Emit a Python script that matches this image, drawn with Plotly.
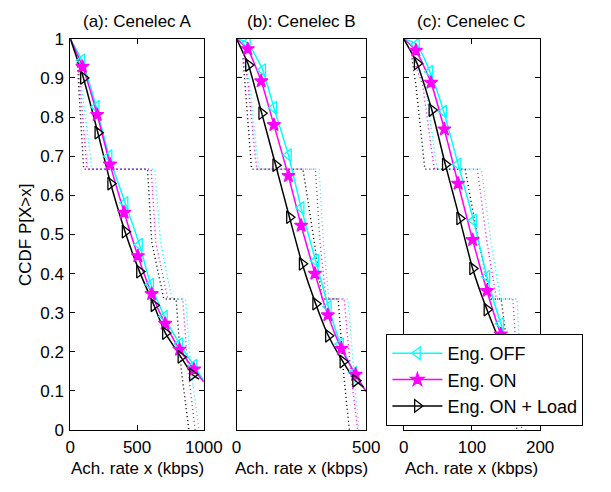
import plotly.graph_objects as go

# ---------------- data ----------------
series_names = ["Eng. OFF", "Eng. ON", "Eng. ON + Load"]
titles = ["(a): Cenelec A", "(b): Cenelec B", "(c): Cenelec C"]
x_ranges = [[0, 1000], [0, 500], [0, 200]]
x_tickvals = [[0, 500, 1000], [0, 500], [0, 100, 200]]
y_tickvals = [0, 0.1, 0.2, 0.3, 0.4, 0.5, 0.6, 0.7, 0.8, 0.9, 1]
y_ticktext = ["0", "0.1", "0.2", "0.3", "0.4", "0.5", "0.6", "0.7", "0.8", "0.9", "1"]

# solid CCDF curves (first and last point have no marker)
a_off_x = [0, 86, 194, 290, 410, 518, 602, 705, 818, 926, 1000]
a_off_y = [1, 0.945, 0.826, 0.70, 0.581, 0.474, 0.372, 0.29, 0.22, 0.165, 0.125]
a_on_x = [0, 91, 201, 297, 403, 506, 609, 710, 818, 926, 1000]
a_on_y = [1, 0.929, 0.806, 0.679, 0.556, 0.445, 0.348, 0.272, 0.206, 0.155, 0.123]
a_load_x = [0, 98, 206, 302, 410, 518, 626, 712, 828, 914, 965]
a_load_y = [1, 0.90, 0.76, 0.63, 0.507, 0.405, 0.319, 0.248, 0.187, 0.142, 0.13]

b_off_x = [0, 42, 101, 144, 200, 249, 305, 354, 401, 453, 500]
b_off_y = [1, 0.99, 0.92, 0.824, 0.703, 0.568, 0.433, 0.315, 0.22, 0.147, 0.098]
b_on_x = [0, 43, 95, 144, 200, 249, 302, 352, 404, 459, 500]
b_on_y = [1, 0.974, 0.892, 0.78, 0.65, 0.523, 0.40, 0.294, 0.208, 0.142, 0.098]
b_load_x = [0, 46, 97, 151, 204, 253, 305, 354, 410, 459, 490]
b_load_y = [1, 0.933, 0.81, 0.677, 0.544, 0.425, 0.323, 0.241, 0.175, 0.126, 0.11]

c_off_x = [0, 18.7, 38.5, 58.7, 79.8, 102.4, 122, 142.3, 163, 185]
c_off_y = [1, 0.986, 0.916, 0.814, 0.679, 0.536, 0.392, 0.272, 0.17, 0.10]
c_on_x = [0, 17.8, 40, 59.6, 79.8, 101, 122, 142.3, 163, 185]
c_on_y = [1, 0.97, 0.888, 0.769, 0.63, 0.486, 0.356, 0.245, 0.16, 0.10]
c_load_x = [0, 19.7, 41.3, 61, 82, 101, 122, 143, 165, 180]
c_load_y = [1, 0.937, 0.818, 0.679, 0.541, 0.413, 0.308, 0.22, 0.15, 0.11]

# dotted (empirical) CCDF curves
step_y = [0.95, 0.88, 0.70, 0.667, 0.667, 0.48, 0.335, 0.335, 0.15, 0]
a_load_dot_x = [50, 62, 92, 100, 578, 610, 700, 792, 832, 888]
a_on_dot_x = [55, 72, 115, 125, 605, 640, 730, 842, 882, 935]
a_off_dot_x = [60, 82, 150, 160, 632, 675, 762, 862, 905, 964]

b_load_dot_x = [25, 33, 52, 58, 256, 300, 330, 392, 412, 435]
b_on_dot_x = [30, 45, 72, 78, 304, 322, 345, 415, 440, 467]
b_off_dot_x = [32, 50, 80, 86, 318, 335, 356, 430, 452, 472]

c_load_dot_x = [12, 18, 29, 31, 90, 110, 128, 143, 156, 166]
c_on_dot_x = [14, 28, 42, 45, 108, 122, 136, 160, 167, 173]
c_off_dot_x = [16, 32, 46, 49, 114, 128, 142, 166, 172, 179]

colors = ["#00FFFF", "#FF00FF", "#000000"]
symbols = ["triangle-left-open", "star", "triangle-right-open"]
marker_sizes = [11, 10, 11]

solid = [
    [(a_off_x, a_off_y), (a_on_x, a_on_y), (a_load_x, a_load_y)],
    [(b_off_x, b_off_y), (b_on_x, b_on_y), (b_load_x, b_load_y)],
    [(c_off_x, c_off_y), (c_on_x, c_on_y), (c_load_x, c_load_y)],
]
dotted = [
    [a_off_dot_x, a_on_dot_x, a_load_dot_x],
    [b_off_dot_x, b_on_dot_x, b_load_dot_x],
    [c_off_dot_x, c_on_dot_x, c_load_dot_x],
]

# ---------------- layout geometry ----------------
W, H = 611, 492
x_px = [(68, 207), (241, 376), (415, 557)]
y_top, y_bot = 31, 438
FS = 17

fig = go.Figure()

for p in range(3):
    xa = "x" if p == 0 else f"x{p+1}"
    ya = "y" if p == 0 else f"y{p+1}"
    for s in range(3):
        fig.add_trace(go.Scatter(
            x=dotted[p][s], y=step_y, mode="lines",
            line=dict(color=colors[s], width=1.4, dash="1px,3px"),
            showlegend=False, xaxis=xa, yaxis=ya, hoverinfo="skip"))
    for s in range(3):
        xs, ys = solid[p][s]
        fig.add_trace(go.Scatter(
            x=xs, y=ys, mode="lines",
            line=dict(color=colors[s], width=1.5, shape="spline", smoothing=0.5),
            showlegend=False, xaxis=xa, yaxis=ya, hoverinfo="skip"))
    for s in range(3):
        xs, ys = solid[p][s]
        fig.add_trace(go.Scatter(
            x=xs[1:-1], y=ys[1:-1], mode="markers",
            marker=dict(symbol=symbols[s], size=marker_sizes[s], color=colors[s],
                        line=dict(color=colors[s], width=1.3)),
            showlegend=False, xaxis=xa, yaxis=ya, hoverinfo="skip"))

# legend-only entries
for s in range(3):
    fig.add_trace(go.Scatter(
        x=[None], y=[None], mode="lines+markers", name=series_names[s],
        line=dict(color=colors[s], width=1.5),
        marker=dict(symbol=symbols[s], size=marker_sizes[s], color=colors[s],
                    line=dict(color=colors[s], width=1.3)),
        xaxis="x3", yaxis="y3"))

font_family = "Liberation Sans, Arial, sans-serif"
axis_common = dict(showgrid=False, zeroline=False, showline=True, linecolor="black",
                   linewidth=1, mirror="ticks", ticks="inside", ticklen=5,
                   tickcolor="black", ticklabelstandoff=2,
                   tickfont=dict(family=font_family, size=FS, color="black"))

layout = dict(
    width=W, height=H, margin=dict(l=0, r=0, t=0, b=0),
    paper_bgcolor="white", plot_bgcolor="white",
    showlegend=True,
    legend=dict(x=397 / W, y=1 - 338 / H, xanchor="left", yanchor="top",
                bgcolor="white", bordercolor="black", borderwidth=1,
                font=dict(family=font_family, size=18, color="black"),
                tracegroupgap=0, itemwidth=50),
    annotations=[],
)

for p in range(3):
    xk = "xaxis" if p == 0 else f"xaxis{p+1}"
    yk = "yaxis" if p == 0 else f"yaxis{p+1}"
    xa_anchor = "y" if p == 0 else f"y{p+1}"
    ya_anchor = "x" if p == 0 else f"x{p+1}"
    layout[xk] = dict(axis_common, domain=[x_px[p][0] / W, x_px[p][1] / W],
                      range=x_ranges[p], tickvals=x_tickvals[p], anchor=xa_anchor)
    layout[yk] = dict(axis_common, domain=[1 - y_bot / H, 1 - y_top / H],
                      range=[0, 1], tickvals=y_tickvals,
                      ticktext=y_ticktext if p == 0 else [""] * len(y_tickvals),
                      anchor=ya_anchor)
    cx = (x_px[p][0] + x_px[p][1]) / 2 / W
    layout["annotations"].append(dict(
        text=titles[p], x=cx, y=1 - 13 / H, xref="paper", yref="paper",
        xanchor="center", yanchor="middle",
        showarrow=False, font=dict(family=font_family, size=FS, color="black")))
    layout["annotations"].append(dict(
        text="Ach. rate x (kbps)", x=cx, y=1 - 478 / H, xref="paper", yref="paper",
        xanchor="center", yanchor="middle",
        showarrow=False, font=dict(family=font_family, size=FS, color="black")))

layout["annotations"].append(dict(
    text="CCDF P[X>x]", x=22 / W, y=1 - 235 / H, xref="paper", yref="paper",
    xanchor="center", yanchor="middle",
    showarrow=False, textangle=-90, font=dict(family=font_family, size=FS, color="black")))

fig.update_layout(**layout)
fig.write_html("out.html")
